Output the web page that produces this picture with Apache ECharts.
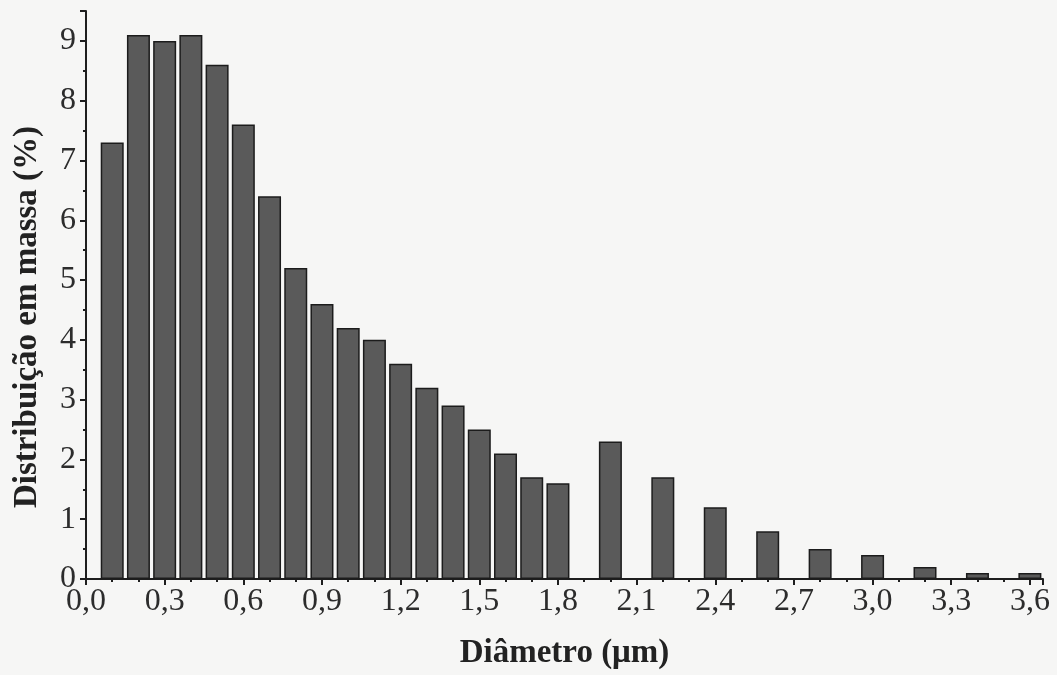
<!DOCTYPE html>
<html>
<head>
<meta charset="utf-8">
<script src="https://cdn.jsdelivr.net/npm/echarts@6/dist/echarts.min.js"></script>
<style>
  html, body { margin: 0; padding: 0; background: #f6f6f5; }
  #chart { width: 1057px; height: 675px; }
</style>
</head>
<body>
<div id="chart"></div>
<script>
// Particle diameter classes (µm) and mass fraction (%)
const diameters = [0.1, 0.2, 0.3, 0.4, 0.5, 0.6, 0.7, 0.8, 0.9, 1.0, 1.1, 1.2, 1.3, 1.4, 1.5, 1.6, 1.7, 1.8,
                   2.0, 2.2, 2.4, 2.6, 2.8, 3.0, 3.2, 3.4, 3.6];
const massPercent = [7.3, 9.1, 9.0, 9.1, 8.6, 7.6, 6.4, 5.2, 4.6, 4.2, 4.0, 3.6, 3.2, 2.9, 2.5, 2.1, 1.7, 1.6,
                     2.3, 1.7, 1.2, 0.8, 0.5, 0.4, 0.2, 0.1, 0.1];
const xTitle = 'Diâmetro (μm)';
const yTitle = 'Distribuição em massa (%)';

const chart = echarts.init(document.getElementById('chart'));
const serif = '"Liberation Serif", "DejaVu Serif", serif';
const axisCommon = {
  axisLine: { show: true, lineStyle: { color: '#1e1e1e', width: 2 } },
  axisTick: { show: true, inside: false, length: 6, lineStyle: { color: '#1e1e1e', width: 2 } },
  minorTick: { show: true, length: 3, lineStyle: { color: '#1e1e1e', width: 2 } },
  splitLine: { show: false },
  nameTextStyle: { fontFamily: serif, fontWeight: 'bold', fontSize: 33, color: '#222' }
};

chart.setOption({
  backgroundColor: '#f6f6f5',
  animation: false,
  grid: { left: 86, right: 14, top: 11, bottom: 94 },
  xAxis: Object.assign({}, axisCommon, {
    type: 'value',
    min: 0, max: 3.65, interval: 0.3,
    minorTick: Object.assign({}, axisCommon.minorTick, { splitNumber: 3 }),
    name: xTitle, nameLocation: 'middle', nameGap: 58,
    axisLabel: {
      showMaxLabel: false, margin: 7,
      fontFamily: serif, fontSize: 32, color: '#2c2c2c',
      formatter: v => v.toFixed(1).replace('.', ',')
    }
  }),
  yAxis: Object.assign({}, axisCommon, {
    type: 'value',
    min: 0, max: 9.5, interval: 1,
    minorTick: Object.assign({}, axisCommon.minorTick, { splitNumber: 2 }),
    name: yTitle, nameLocation: 'middle', nameGap: 42,
    nameTextStyle: Object.assign({}, axisCommon.nameTextStyle, { padding: [0, 44, 0, 0] }),
    axisLabel: {
      showMaxLabel: false, margin: 10,
      fontFamily: serif, fontSize: 32, color: '#2c2c2c'
    }
  }),
  series: [{
    type: 'bar',
    data: diameters.map((d, i) => [d, massPercent[i]]),
    barWidth: 23,
    itemStyle: { color: '#5a5a5a', borderColor: '#1c1c1c', borderWidth: 1.5 }
  }]
});
</script>
</body>
</html>
